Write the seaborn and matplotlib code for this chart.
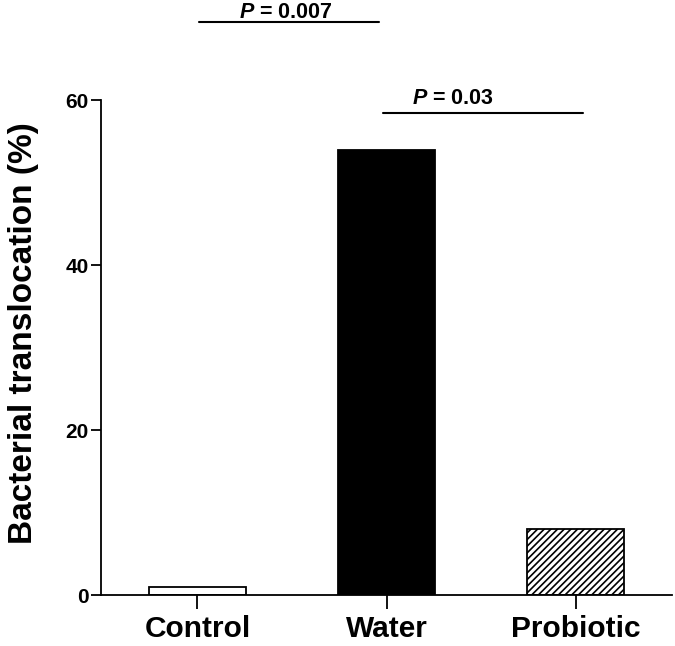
import pandas as pd
import matplotlib.pyplot as plt
import seaborn as sns

groups = ["Control", "Water", "Probiotic"]
translocation = [1.0, 54.0, 8.0]
fills = ["white", "black", "white"]
hatches = ["", "", "/////"]
yticks = [0, 20, 40, 60]
p_labels = ["0.007", "0.03"]
p_pairs = [(0.01, 0.96), (0.98, 2.04)]
p_heights = [69.4, 58.4]
p_text_x = [0.47, 1.35]
p_text_y = [69.9, 59.5]

sns.set_style("ticks")
plt.rcParams["font.family"] = ["Liberation Sans", "DejaVu Sans"]
plt.rcParams["mathtext.fontset"] = "custom"
plt.rcParams["mathtext.it"] = "Liberation Sans:italic:bold"
plt.rcParams["mathtext.rm"] = "Liberation Sans:bold"
plt.rcParams["hatch.linewidth"] = 1.2
for key in ["text.color", "axes.labelcolor", "xtick.color", "ytick.color", "axes.edgecolor"]:
    plt.rcParams[key] = "black"

df = pd.DataFrame({"group": groups, "value": translocation})

fig = plt.figure(figsize=(6.75, 6.46), dpi=100)
ax = fig.add_axes([0.1496, 0.0782, 0.846, 0.767])

sns.barplot(data=df, x="group", y="value", hue="group", palette=fills,
            width=0.51, edgecolor="black", linewidth=1.3, legend=False, ax=ax)
for bar, h in zip(ax.patches, hatches):
    bar.set_hatch(h)

ax.set_ylim(0, 60)
ax.set_xlim(-0.51, 2.51)
ax.set_yticks(yticks)
ax.set_xlabel("")
ax.set_ylabel("Bacterial translocation (%)", fontsize=24, fontweight="bold")
ax.yaxis.set_label_coords(-0.108, 0.53)
ax.tick_params(axis="y", length=7, width=1.3, labelsize=15, pad=2)
ax.tick_params(axis="x", length=10, width=1.3, labelsize=21.5, pad=4)
for lbl in ax.get_xticklabels() + ax.get_yticklabels():
    lbl.set_fontweight("bold")
sns.despine(ax=ax)
for s in ["left", "bottom"]:
    ax.spines[s].set_linewidth(1.3)

for (x0, x1), y, lab, tx, ty in zip(p_pairs, p_heights, p_labels, p_text_x, p_text_y):
    ax.plot([x0, x1], [y, y], color="black", lw=1.5, clip_on=False)
    ax.text(tx, ty, r"$P$ = " + lab, ha="center", va="baseline",
            fontsize=15.5, fontweight="bold", clip_on=False)

fig.savefig("out.png", dpi=100)
